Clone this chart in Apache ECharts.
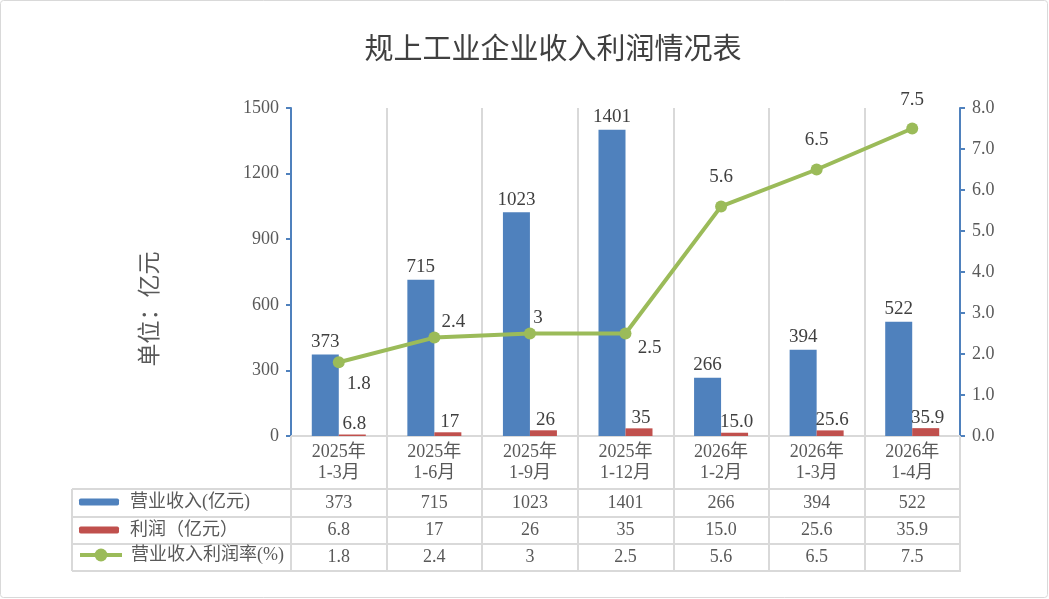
<!DOCTYPE html>
<html>
<head>
<meta charset="utf-8">
<script src="https://cdn.jsdelivr.net/npm/echarts@6/dist/echarts.min.js"></script>
<style>
html,body{margin:0;padding:0;background:#fff;}
#c{width:1049px;height:599px;}
</style>
</head>
<body>
<div id="c"></div>
<script>
// ---- data ----
const categories = ['2025年\n1-3月','2025年\n1-6月','2025年\n1-9月','2025年\n1-12月','2026年\n1-2月','2026年\n1-3月','2026年\n1-4月'];
const revenue = [373, 715, 1023, 1401, 266, 394, 522];
const profit = [6.8, 17, 26, 35, 15.0, 25.6, 35.9];
const profitText = ['6.8','17','26','35','15.0','25.6','35.9'];
const rate = [1.8, 2.4, 2.5, 2.5, 5.6, 6.5, 7.5];
const rateText = ['1.8','2.4','3','2.5','5.6','6.5','7.5'];
const leftTicks = [0, 300, 600, 900, 1200, 1500];
const rightTicks = [0, 1, 2, 3, 4, 5, 6, 7, 8];
const seriesNames = ['营业收入(亿元)', '利润（亿元）', '营业收入利润率(%)'];

// ---- style ----
const rateLabelOffsets = [[20,22],[19,-16],[8,-15],[24,15],[0,-29],[0,-29],[0,-28]];
const FONT = "'Liberation Serif','Noto Sans CJK SC',serif";
const BLUE = '#4F81BD', RED = '#C0504D', GREEN = '#9BBB59';
const GRID = '#D9D9D9', TXT = '#595959', LBL = '#404040';

const chart = echarts.init(document.getElementById('c'), null, {renderer:'canvas'});

function tableAxis(arr, offset){
  return {
    type:'category', gridIndex:0, position:'bottom', offset:offset,
    data: categories,
    axisLine:{show:false}, axisTick:{show:false}, splitLine:{show:false},
    axisLabel:{interval:0, margin:0, verticalAlign:'middle', fontFamily:FONT, fontSize:18, color:TXT,
      formatter:(v, i) => arr[i]}
  };
}

const legendBase = {
  orient:'horizontal', left:79, itemWidth:40, itemHeight:7, padding:0, selectedMode:false,
  textStyle:{fontFamily:FONT, fontSize:18, color:TXT, padding:[0,0,0,6]}
};

const option = {
  backgroundColor:'#fff',
  animation:false,
  title:{
    text:'规上工业企业收入利润情况表', left:548, top:28, textAlign:'center',
    textStyle:{fontFamily:"'Noto Sans CJK SC',sans-serif", fontSize:29, fontWeight:'normal', color:LBL}
  },
  legend:[
    Object.assign({}, legendBase, {top:493, data:[seriesNames[0]]}),
    Object.assign({}, legendBase, {top:521, data:[seriesNames[1]]}),
    Object.assign({}, legendBase, {top:546, left:78, itemWidth:42, itemHeight:16,
      lineStyle:{width:4}, textStyle:{fontFamily:FONT, fontSize:18, color:TXT, padding:[0,0,0,4]},
      data:[seriesNames[2]]})
  ],
  grid:{left:291, right:89, top:108, bottom:163, containLabel:false},
  xAxis:[
    {
      type:'category', gridIndex:0, data:categories, position:'bottom',
      axisLine:{show:true, lineStyle:{color:GRID, width:2}},
      axisTick:{show:true, interval:0, length:135, lineStyle:{color:GRID, width:2}},
      splitLine:{show:true, interval:0, lineStyle:{color:GRID, width:2}},
      axisLabel:{interval:0, margin:6, fontFamily:FONT, fontSize:18, lineHeight:21, color:TXT}
    },
    tableAxis(revenue.map(String), 67),
    tableAxis(profitText, 94.5),
    tableAxis(rateText, 121.5)
  ],
  yAxis:[
    {
      type:'value', min:leftTicks[0], max:leftTicks[leftTicks.length-1], interval:leftTicks[1]-leftTicks[0],
      axisLine:{show:true, lineStyle:{color:BLUE, width:2}},
      axisTick:{show:true, length:5, lineStyle:{color:BLUE, width:2}},
      splitLine:{show:false},
      axisLabel:{margin:12, fontFamily:FONT, fontSize:18, color:TXT, formatter:v => String(v)}
    },
    {
      type:'value', position:'right', min:rightTicks[0], max:rightTicks[rightTicks.length-1], interval:rightTicks[1]-rightTicks[0],
      axisLine:{show:true, lineStyle:{color:BLUE, width:2}},
      axisTick:{show:true, length:5, lineStyle:{color:BLUE, width:2}},
      splitLine:{show:false},
      axisLabel:{margin:12, fontFamily:FONT, fontSize:18, color:TXT, formatter:v => v.toFixed(1)}
    }
  ],
  series:[
    {
      name:seriesNames[0], type:'bar', xAxisIndex:0, yAxisIndex:0, data:revenue,
      barWidth:27, barGap:'0%', itemStyle:{color:BLUE},
      label:{show:true, position:'top', distance:3, fontFamily:FONT, fontSize:19, color:LBL}
    },
    {
      name:seriesNames[1], type:'bar', xAxisIndex:0, yAxisIndex:0, data:profit,
      barWidth:27, barGap:'0%', itemStyle:{color:RED},
      label:{show:true, position:'top', distance:1, offset:[2,0], fontFamily:FONT, fontSize:19, color:LBL,
        formatter:p => profitText[p.dataIndex]}
    },
    {
      name:seriesNames[2], type:'line', xAxisIndex:0, yAxisIndex:1,
      data: rate.map((v, i) => ({value:v, label:{offset:rateLabelOffsets[i]}})),
      symbol:'circle', symbolSize:12,
      lineStyle:{color:GREEN, width:4}, itemStyle:{color:GREEN},
      label:{show:true, position:'inside', fontFamily:FONT, fontSize:19, color:LBL,
        formatter:p => rateText[p.dataIndex]},
      z:5
    }
  ],
  graphic:[
    {type:'rect', shape:{x:0.5, y:0.5, width:1047, height:597, r:3}, style:{fill:'none', stroke:GRID, lineWidth:1}, silent:true, z:-1},
    {type:'text', x:148, y:309, rotation:Math.PI/2, style:{text:'单位：亿元', fontFamily:"'Noto Sans CJK SC',sans-serif", fontSize:23, fill:TXT, align:'center', verticalAlign:'middle'}},
    {type:'line', shape:{x1:72, y1:489, x2:961, y2:489}, style:{stroke:GRID, lineWidth:2}},
    {type:'line', shape:{x1:72, y1:517, x2:961, y2:517}, style:{stroke:GRID, lineWidth:2}},
    {type:'line', shape:{x1:72, y1:544, x2:961, y2:544}, style:{stroke:GRID, lineWidth:2}},
    {type:'line', shape:{x1:72, y1:571, x2:961, y2:571}, style:{stroke:GRID, lineWidth:2}},
    {type:'line', shape:{x1:72, y1:489, x2:72, y2:571}, style:{stroke:GRID, lineWidth:2}}
  ]
};
chart.setOption(option);
</script>
</body>
</html>
